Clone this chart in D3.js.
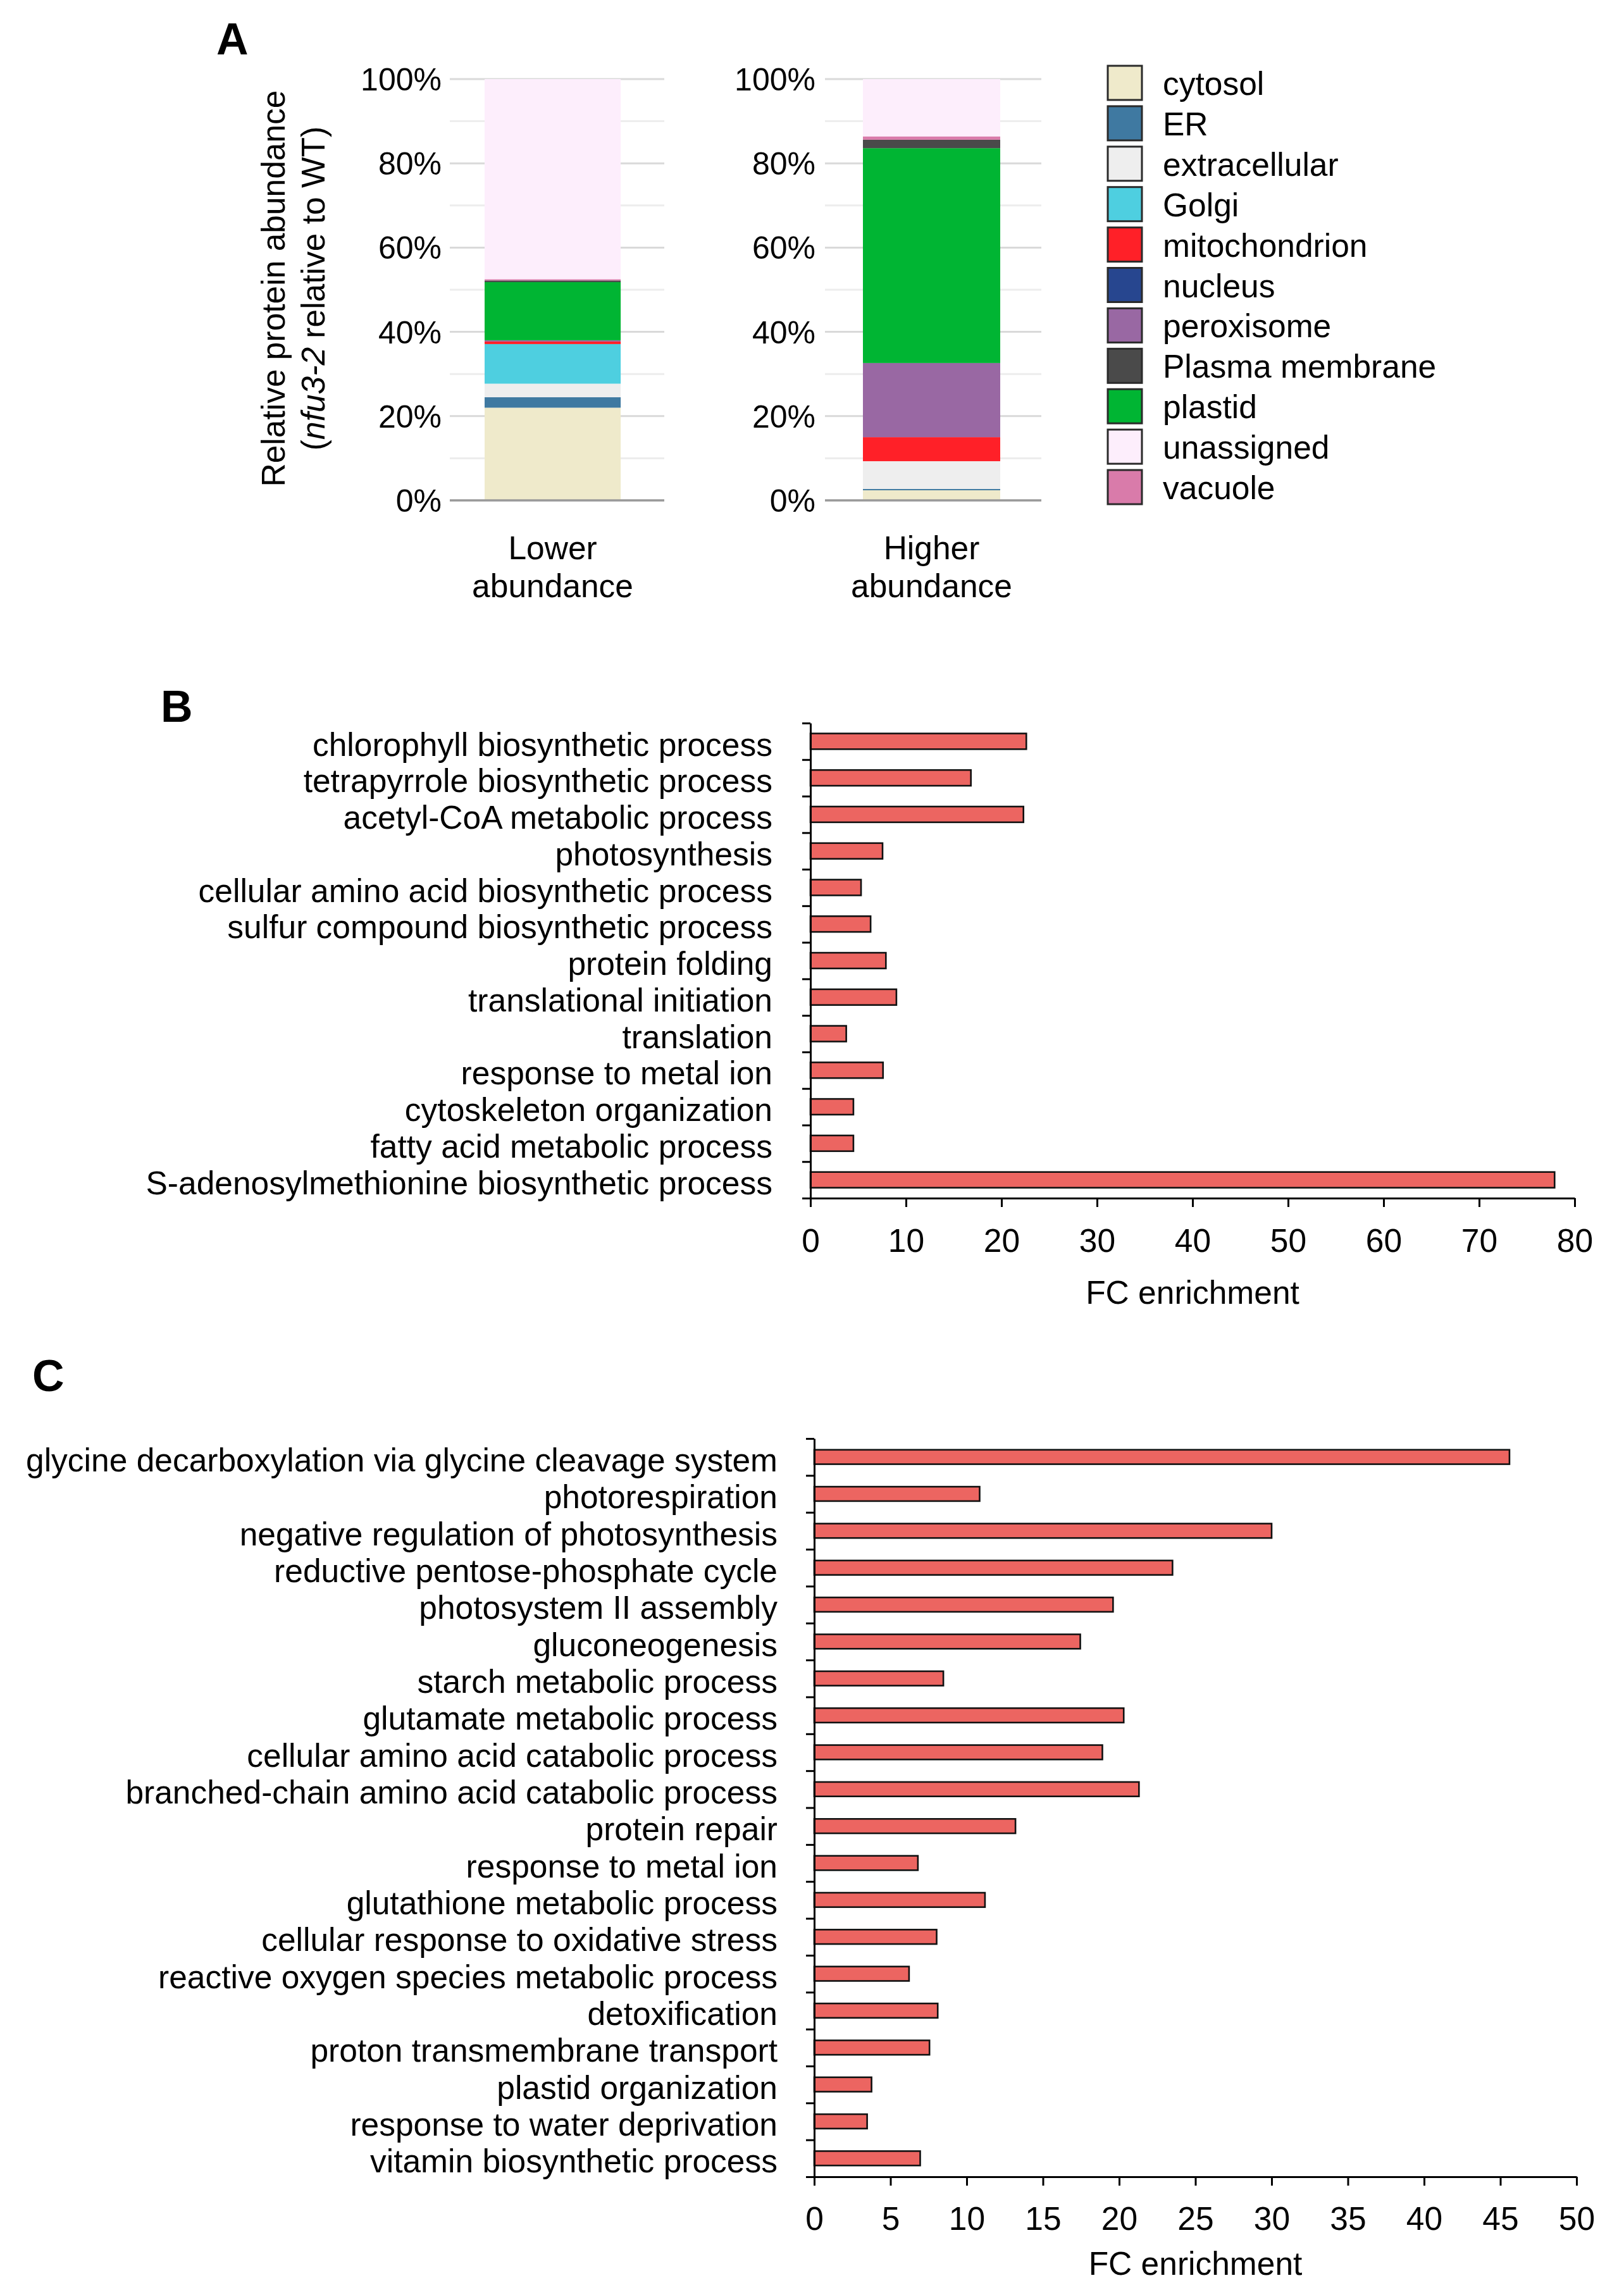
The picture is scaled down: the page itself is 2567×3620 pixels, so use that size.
<!DOCTYPE html>
<html><head><meta charset="utf-8">
<script src="https://cdn.jsdelivr.net/npm/d3@7"></script>
<style>
body{margin:0;background:#fff}
text{font-family:"Liberation Sans",Arial,Helvetica,sans-serif;fill:#000}
</style>
</head><body>
<svg id="chart" width="2567" height="3620" xmlns="http://www.w3.org/2000/svg"></svg>
<script>
// ---------------- DATA ----------------
// Panel A: subcellular localisation (percent of proteins)
const compartments = ["cytosol","ER","extracellular","Golgi","mitochondrion","nucleus","peroxisome","Plasma membrane","plastid","unassigned","vacuole"];
const compartmentColors = ["#EFEACB","#3F79A1","#EEEEEE","#4ECFE0","#FF2028","#27468F","#9968A3","#4A4A4A","#00B533","#FDEEFC","#D97BAA"];
const stackOrder = ["cytosol","ER","extracellular","Golgi","mitochondrion","nucleus","peroxisome","plastid","Plasma membrane","vacuole","unassigned"];
const groups = ["Lower abundance","Higher abundance"];
const groupLines = [["Lower","abundance"],["Higher","abundance"]];
const lowerAbundance  = [22.0, 2.5, 3.2, 9.4, 0.6, 0, 0.3, 0.4, 13.8, 47.5, 0.3];
const higherAbundance = [2.4, 0.3, 6.6, 0, 5.7, 0, 17.6, 2.0, 51.0, 13.6, 0.8];
const pctMajorTicks = [0,20,40,60,80,100];
const pctMinorTicks = [10,30,50,70,90];

// Panel B
const bTerms = ["chlorophyll biosynthetic process","tetrapyrrole biosynthetic process","acetyl-CoA metabolic process","photosynthesis","cellular amino acid biosynthetic process","sulfur compound biosynthetic process","protein folding","translational initiation","translation","response to metal ion","cytoskeleton organization","fatty acid metabolic process","S-adenosylmethionine biosynthetic process"];
const bValues = [22.6, 16.8, 22.3, 7.55, 5.3, 6.3, 7.9, 9.0, 3.75, 7.6, 4.5, 4.5, 77.9];
const bTicks = [0,10,20,30,40,50,60,70,80];

// Panel C
const cTerms = ["glycine decarboxylation via glycine cleavage system","photorespiration","negative regulation of photosynthesis","reductive pentose-phosphate cycle","photosystem II assembly","gluconeogenesis","starch metabolic process","glutamate metabolic process","cellular amino acid catabolic process","branched-chain amino acid catabolic process","protein repair","response to metal ion","glutathione metabolic process","cellular response to oxidative stress","reactive oxygen species metabolic process","detoxification","proton transmembrane transport","plastid organization","response to water deprivation","vitamin biosynthetic process"];
const cValues = [45.6, 10.85, 30.0, 23.5, 19.6, 17.45, 8.47, 20.3, 18.9, 21.3, 13.2, 6.8, 11.2, 8.03, 6.22, 8.1, 7.56, 3.76, 3.47, 6.95];
const cTicks = [0,5,10,15,20,25,30,35,40,45,50];

const axisTitle = "FC enrichment";

// ---------------- DRAW ----------------
const svg = d3.select("#chart");
const FS = 51.5;
const colorOf = d3.scaleOrdinal().domain(compartments).range(compartmentColors);

// panel letters
[["A",342,86],["B",254,1141],["C",51,2199]].forEach(([t,x,y])=>{
  svg.append("text").attr("x",x).attr("y",y).attr("font-size",70).attr("font-weight","bold").text(t);
});

// ---- Panel A ----
const yA = d3.scaleLinear().domain([0,100]).range([791,125]);
const rows = groups.map((g,i)=>{
  const vals = i===0 ? lowerAbundance : higherAbundance;
  const o = {group:g};
  compartments.forEach((c,j)=>o[c]=vals[j]);
  return o;
});
const stacked = d3.stack().keys(stackOrder)(rows);

const plotsA = [
  {grid:[711,1050], align:0.444, labelX:698},
  {grid:[1304,1646], align:0.48, labelX:1289}
];
plotsA.forEach((p,gi)=>{
  const g = svg.append("g");
  const xb = d3.scaleBand().domain([groups[gi]]).range(p.grid).paddingInner(0).paddingOuter(0.288).align(p.align);
  g.selectAll(".minor").data(pctMinorTicks).join("line")
    .attr("x1",p.grid[0]).attr("x2",p.grid[1]).attr("y1",d=>yA(d)).attr("y2",d=>yA(d))
    .attr("stroke","#EDEDED").attr("stroke-width",3);
  g.selectAll(".major").data(pctMajorTicks.filter(d=>d>0)).join("line")
    .attr("x1",p.grid[0]).attr("x2",p.grid[1]).attr("y1",d=>yA(d)).attr("y2",d=>yA(d))
    .attr("stroke","#D9D9D9").attr("stroke-width",3);
  stacked.forEach(layer=>{
    const d = layer[gi];
    if (d[1]-d[0] <= 0) return;
    g.append("rect").attr("x",xb(groups[gi])).attr("width",xb.bandwidth())
      .attr("y",yA(d[1])).attr("height",yA(d[0])-yA(d[1]))
      .attr("fill",colorOf(layer.key));
  });
  g.append("line").attr("x1",p.grid[0]).attr("x2",p.grid[1]).attr("y1",yA(0)).attr("y2",yA(0))
    .attr("stroke","#999").attr("stroke-width",3.5);
  g.selectAll(".tl").data(pctMajorTicks).join("text")
    .attr("x",p.labelX).attr("y",d=>yA(d)).attr("dy","0.36em").attr("text-anchor","end")
    .attr("font-size",50).text(d=>d+"%");
  const cx = xb(groups[gi]) + xb.bandwidth()/2;
  groupLines[gi].forEach((ln,k)=>{
    g.append("text").attr("x",cx).attr("y",866+k*60).attr("dy","0.35em").attr("text-anchor","middle")
      .attr("font-size",FS).text(ln);
  });
});
// y-axis title
const yt = svg.append("g").attr("transform","translate(432,456) rotate(-90)");
yt.append("text").attr("text-anchor","middle").attr("dy","0.35em").attr("font-size",FS).text("Relative protein abundance");
const yt2 = yt.append("text").attr("y",63).attr("text-anchor","middle").attr("dy","0.35em").attr("font-size",FS);
yt2.append("tspan").text("(");
yt2.append("tspan").attr("font-style","italic").text("nfu3-2");
yt2.append("tspan").text(" relative to WT)");

// legend
const lg = svg.append("g");
compartments.forEach((c,i)=>{
  const y0 = 104 + i*63.9;
  lg.append("rect").attr("x",1751).attr("y",y0).attr("width",54).attr("height",54)
    .attr("fill",colorOf(c)).attr("stroke","#2a2a2a").attr("stroke-width",3);
  lg.append("text").attr("x",1838).attr("y",y0+27).attr("dy","0.37em").attr("font-size",FS).text(c);
});

// ---- Bar panels B & C ----
function barPanel(terms, values, ticks, cfg){
  const g = svg.append("g");
  const x = d3.scaleLinear().domain([0, ticks[ticks.length-1]]).range([cfg.x0, cfg.x1]);
  const y = d3.scaleBand().domain(terms).range([cfg.y0, cfg.y1]).paddingInner(cfg.pad).paddingOuter(cfg.pad/2);
  const yEdges = d3.scaleLinear().domain([0, terms.length]).range([cfg.y0, cfg.y1]);

  g.selectAll("rect").data(terms).join("rect")
    .attr("x",x(0)).attr("y",d=>y(d)).attr("height",y.bandwidth())
    .attr("width",(d,i)=>x(values[i])-x(0))
    .attr("fill","#EC6561").attr("stroke","#111").attr("stroke-width",2.6);

  const ya = g.append("g").attr("transform",`translate(${x(0)},0)`)
    .call(d3.axisLeft(yEdges).tickValues(d3.range(terms.length+1)).tickSize(13).tickSizeOuter(0).tickFormat(""));
  ya.selectAll("path,line").attr("stroke","#000").attr("stroke-width",3);

  const xa = g.append("g").attr("transform",`translate(0,${cfg.y1})`)
    .call(d3.axisBottom(x).tickValues(ticks).tickSize(14).tickSizeOuter(0).tickPadding(cfg.tickPad));
  xa.selectAll("path,line").attr("stroke","#000").attr("stroke-width",3);
  xa.selectAll("text").attr("font-size",FS).attr("font-family","'Liberation Sans',Arial,sans-serif").attr("fill","#000");

  g.selectAll(".cat").data(terms).join("text")
    .attr("x",cfg.labelX).attr("y",d=>y(d)+y.bandwidth()/2).attr("dy","0.44em")
    .attr("text-anchor","end").attr("font-size",FS).text(d=>d);

  g.append("text").attr("x",(cfg.x0+cfg.x1)/2).attr("y",cfg.titleY).attr("dy","0.35em")
    .attr("text-anchor","middle").attr("font-size",FS).text(axisTitle);
}

barPanel(bTerms, bValues, bTicks, {x0:1281, x1:2489, y0:1143, y1:1894, pad:0.57, labelX:1221, tickPad:34, titleY:2043});
barPanel(cTerms, cValues, cTicks, {x0:1287, x1:2492, y0:2274, y1:3441, pad:0.61, labelX:1229, tickPad:33, titleY:3578});
</script>
</body></html>
